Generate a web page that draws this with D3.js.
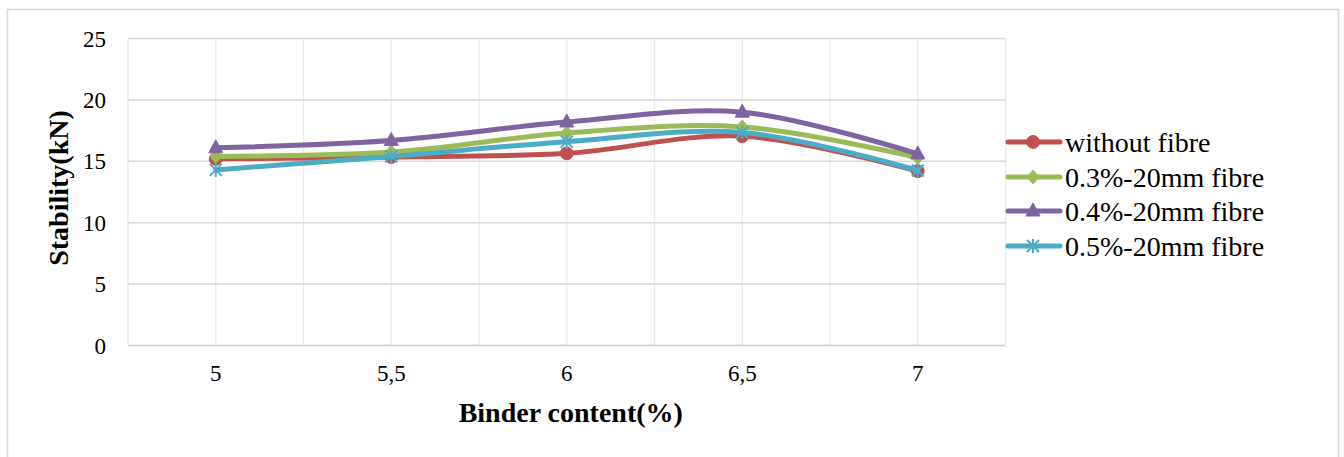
<!DOCTYPE html>
<html>
<head>
<meta charset="utf-8">
<script src="https://cdn.jsdelivr.net/npm/d3@7"></script>
<style>
  html, body { margin: 0; padding: 0; background: #fff; }
  svg { display: block; }
  svg text { font-family: "Liberation Serif", "Times New Roman", "DejaVu Serif", serif; }
</style>
</head>
<body>
<svg id="chart" width="1344" height="457"></svg>
<script>
// ---- data ----
const categories = ["5", "5,5", "6", "6,5", "7"];
const yTicks = [0, 5, 10, 15, 20, 25];
const seriesNames = ["without fibre", "0.3%-20mm fibre", "0.4%-20mm fibre", "0.5%-20mm fibre"];
const withoutFibre = [15.2, 15.35, 15.65, 17.05, 14.2];
const fibre03 = [15.4, 15.75, 17.3, 17.8, 15.3];
const fibre04 = [16.1, 16.7, 18.2, 19.0, 15.6];
const fibre05 = [14.3, 15.4, 16.6, 17.35, 14.25];
const seriesValues = [withoutFibre, fibre03, fibre04, fibre05];
const seriesColors = ["#C0504D", "#9BBB59", "#8064A2", "#4BACC6"];
const seriesMarkers = ["circle", "diamond", "triangle", "star"];
const xTitle = "Binder content(%)";
const yTitle = "Stability(kN)";

// ---- layout ----
const svg = d3.select("#chart");
const plot = { left: 128, right: 1005.5, top: 38.5, bottom: 345.5 };

// outer chart border
svg.append("rect")
  .attr("x", 7.5).attr("y", 9.5)
  .attr("width", 1331).attr("height", 460)
  .attr("fill", "#fff").attr("stroke", "#d9d9d9").attr("stroke-width", 1.5);

const x = d3.scaleBand().domain(categories).range([plot.left, plot.right]).padding(0);
const xc = d => x(d) + x.bandwidth() / 2;
const y = d3.scaleLinear().domain([0, 25]).range([plot.bottom, plot.top]);

// vertical gridlines (band edges and centers)
const vLines = [];
categories.forEach(c => { vLines.push(x(c)); vLines.push(xc(c)); });
vLines.push(plot.right);
svg.append("g").selectAll("line").data(vLines).join("line")
  .attr("x1", d => d).attr("x2", d => d)
  .attr("y1", plot.top).attr("y2", plot.bottom)
  .attr("stroke", "#ebebeb").attr("stroke-width", 1.3);

// horizontal gridlines
svg.append("g").selectAll("line").data(yTicks).join("line")
  .attr("x1", plot.left).attr("x2", plot.right)
  .attr("y1", d => y(d)).attr("y2", d => y(d))
  .attr("stroke", d => d === 0 ? "#d0d0d0" : "#d9d9d9").attr("stroke-width", 1.5);

// y tick labels
svg.append("g").selectAll("text").data(yTicks).join("text")
  .attr("x", 106).attr("y", d => y(d))
  .attr("dy", "0.35em")
  .attr("text-anchor", "end")
  .attr("font-size", 23).attr("fill", "#000")
  .text(d => d);

// x tick labels
svg.append("g").selectAll("text").data(categories).join("text")
  .attr("x", d => xc(d)).attr("y", 373)
  .attr("dy", "0.35em")
  .attr("text-anchor", "middle")
  .attr("font-size", 23).attr("fill", "#000")
  .text(d => d);

// axis titles
svg.append("text")
  .attr("x", (plot.left + plot.right) / 2 + 4).attr("y", 422)
  .attr("text-anchor", "middle")
  .attr("font-size", 28).attr("font-weight", "bold")
  .text(xTitle);
svg.append("text")
  .attr("transform", `translate(68, ${(plot.top + plot.bottom) / 2 - 4}) rotate(-90)`)
  .attr("text-anchor", "middle")
  .attr("font-size", 28).attr("font-weight", "bold")
  .text(yTitle);

// marker paths
function markerPath(kind) {
  if (kind === "circle") return d3.symbol(d3.symbolCircle, 130)();
  if (kind === "diamond") return "M0,-7L6,0L0,7L-6,0Z";
  if (kind === "triangle") return "M0,-8L7,5L-7,5Z";
  if (kind === "star") return "M0,-7L0,7M-6,-6L6,6M-6,6L6,-6";
  return "";
}

const line = d3.line()
  .x((d, i) => xc(categories[i]))
  .y(d => y(d))
  .curve(d3.curveCatmullRom.alpha(0.5));

// series
seriesValues.forEach((vals, si) => {
  const g = svg.append("g");
  g.append("path")
    .attr("d", line(vals))
    .attr("fill", "none")
    .attr("stroke", seriesColors[si])
    .attr("stroke-width", 5)
    .attr("stroke-linecap", "round")
    .attr("stroke-linejoin", "round");
  const kind = seriesMarkers[si];
  g.selectAll("path.m").data(vals).join("path")
    .attr("class", "m")
    .attr("transform", (d, i) => `translate(${xc(categories[i])},${y(d)})`)
    .attr("d", markerPath(kind))
    .attr("fill", kind === "star" ? "none" : seriesColors[si])
    .attr("stroke", seriesColors[si])
    .attr("stroke-width", kind === "star" ? 2 : 1);
});

// legend
const legendY = [142, 177, 211, 246];
const lg = svg.append("g");
seriesNames.forEach((name, si) => {
  const yy = legendY[si];
  lg.append("line")
    .attr("x1", 1008).attr("x2", 1060).attr("y1", yy).attr("y2", yy)
    .attr("stroke", seriesColors[si]).attr("stroke-width", 5)
    .attr("stroke-linecap", "round");
  const kind = seriesMarkers[si];
  lg.append("path")
    .attr("transform", `translate(1033,${yy})`)
    .attr("d", markerPath(kind))
    .attr("fill", kind === "star" ? "none" : seriesColors[si])
    .attr("stroke", seriesColors[si])
    .attr("stroke-width", kind === "star" ? 2 : 1);
  lg.append("text")
    .attr("x", 1065).attr("y", yy).attr("dy", "0.35em")
    .attr("font-size", 28).attr("fill", "#000")
    .text(name);
});
</script>
</body>
</html>
